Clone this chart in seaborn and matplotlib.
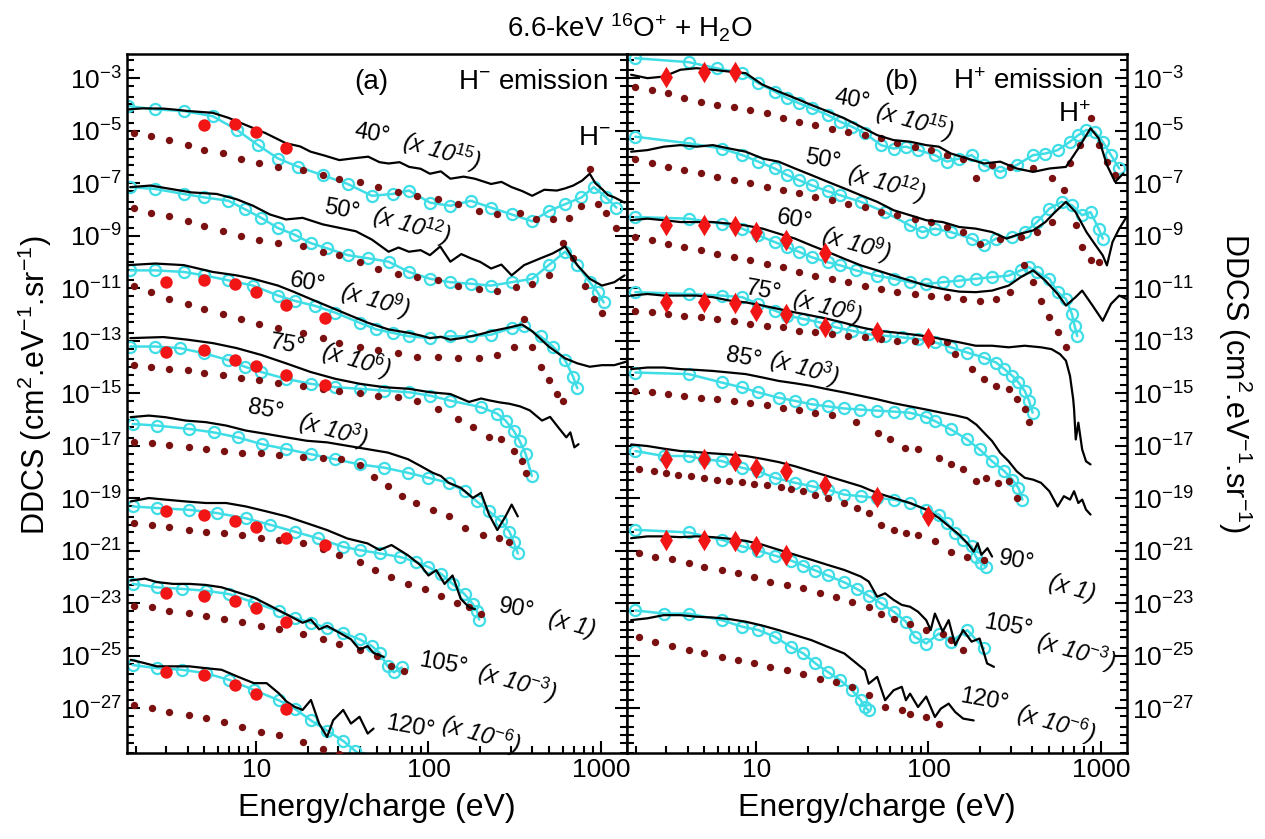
import numpy as np
import matplotlib
matplotlib.use("Agg")
import matplotlib.pyplot as plt
import seaborn as sns
from matplotlib.ticker import FixedLocator, FuncFormatter, NullFormatter, LogLocator

# energies in eV, DDCS given as log10 of the plotted (scaled) value
ANGLES = [40, 50, 60, 75, 85, 90, 105, 120]
FACTORS = ["15", "12", "9", "6", "3", None, "-3", "-6"]
RED_E = [3, 5, 7.5, 10, 15, 25, 50, 100]

# ---- panel (a): H- emission ----
a_black = {
    40: ([1.8, 2.2, 2.9, 3.4, 4.0, 5.6, 6.9, 8.6, 11.3, 14.9, 18, 20.7, 25, 30.4, 37, 44.7, 52, 58.7, 68, 77.3,
          90, 102, 118, 134, 160, 186, 231, 265, 304, 350, 400, 470, 556, 620, 692, 780, 863, 930, 1016, 1100, 1199, 1375],
         [-4.19, -4.15, -4.16, -4.2, -4.25, -4.32, -4.51, -4.77, -5.09, -5.48, -5.6, -5.80, -5.95, -6.12, -6.05, -5.99,
          -6.2, -6.25, -6.2, -6.38, -6.45, -6.64, -6.55, -6.83, -6.75, -6.83, -7.03, -6.95, -7.15, -7.3, -7.48, -7.25,
          -7.28, -7.2, -7.09, -6.9, -6.64, -7.0, -7.22, -7.45, -7.54, -7.74]),
    50: ([1.86, 2.44, 3.2, 4.2, 5.9, 7.7, 9.6, 12.0, 14.9, 18.6, 24.4, 30.4, 37.9, 47, 58.7, 67, 77, 90, 102, 117,
          134, 155, 176, 200, 231, 265, 304, 359, 447, 528, 621, 731, 863, 1016, 1199, 1375],
         [-7.15, -7.09, -7.22, -7.35, -7.41, -7.61, -7.86, -8.19, -8.38, -8.32, -8.57, -8.70, -8.83, -9.15, -9.61,
          -9.45, -9.61, -9.55, -9.74, -9.41, -9.99, -9.7, -9.86, -10.0, -10.25, -10.1, -10.51, -10.12, -9.86, -9.67,
          -9.41, -10.12, -10.64, -10.90, -10.77, -10.51]),
    60: ([1.8, 2.6, 3.8, 5.6, 7.7, 9.6, 13.4, 16.7, 20.7, 25.8, 35.8, 44.7, 58.7, 77, 90, 102, 118, 134, 155, 176,
          200, 231, 287, 349, 400, 499, 621, 731, 863, 1016, 1199, 1400],
         [-10.12, -10.06, -10.12, -10.38, -10.51, -10.64, -10.90, -11.15, -11.41, -11.67, -12.06, -12.32, -12.57,
          -12.70, -12.8, -12.90, -12.85, -12.96, -12.9, -12.83, -12.75, -12.64, -12.51, -12.38, -12.64, -13.22,
          -13.67, -13.86, -13.99, -13.93, -13.93, -13.80]),
    75: ([1.86, 2.9, 4.0, 5.6, 7.7, 10.7, 14.9, 20.7, 28.8, 40, 55.5, 77, 102, 134, 172, 202, 225, 260, 295, 340,
          387, 456, 508, 567, 631, 666, 703, 743],
         [-12.90, -12.86, -12.96, -13.09, -13.28, -13.54, -13.86, -14.19, -14.45, -14.64, -14.77, -14.83, -14.96,
          -15.03, -15.33, -15.2, -15.27, -15.35, -15.4, -15.5, -15.65, -16.04, -15.90, -16.30, -16.68, -16.49,
          -17.06, -16.94]),
    85: ([1.87, 2.38, 2.96, 3.9, 5.1, 6.7, 8.7, 11.5, 15.0, 19.7, 25.8, 33.8, 44.4, 58.2, 76, 90, 106, 118, 131,
          154, 181, 202, 225, 251, 280, 304, 330],
         [-15.91, -15.85, -15.91, -16.04, -16.10, -16.23, -16.42, -16.55, -16.68, -16.81, -16.87, -17.0, -17.13,
          -17.26, -17.51, -17.77, -18.03, -18.15, -18.41, -18.60, -18.99, -18.79, -19.63, -20.21, -19.69, -19.24,
          -19.69]),
    90: ([1.87, 2.38, 2.96, 3.9, 5.1, 6.7, 8.7, 11.5, 15.0, 19.7, 25.8, 33.8, 44.4, 52, 61, 76, 90, 100, 111, 124,
          138, 154, 172, 186],
         [-19.12, -18.99, -19.05, -19.12, -19.18, -19.18, -19.31, -19.50, -19.69, -19.95, -20.21, -20.53, -20.72,
          -20.97, -20.78, -21.17, -21.55, -21.94, -21.74, -22.26, -21.94, -22.83, -23.15, -23.22]),
    105: ([1.87, 2.26, 2.65, 3.3, 4.1, 5.1, 6.3, 7.8, 9.7, 12.1, 15.0, 18.6, 20.8, 23.2, 25.8, 30.4, 35.5, 39.8,
           44.4, 48, 55],
          [-22.13, -22.06, -22.19, -22.26, -22.26, -22.30, -22.39, -22.58, -22.78, -23.10, -23.42, -23.74, -23.62,
           -23.99, -23.86, -24.12, -24.37, -24.76, -24.63, -24.89, -25.04]),
    120: ([1.87, 2.26, 2.65, 3.3, 4.1, 5.1, 6.3, 7.8, 9.7, 11.5, 13.5, 15.0, 16.7, 18.6, 20.8, 23.2, 25.8, 28.0,
           32, 35.5, 39.8, 44.4, 48],
          [-25.15, -25.28, -25.40, -25.40, -25.40, -25.47, -25.53, -25.79, -26.04, -26.04, -26.42, -26.74, -26.94,
           -27.06, -26.68, -27.58, -28.09, -27.45, -27.06, -27.58, -27.32, -27.96, -27.77]),
}

a_cyan = {
    40: ([1.8, 2.6, 3.8, 5.6, 7.7, 10.2, 13.4, 17.6, 24.4, 34, 47, 62, 77, 102, 134, 176, 231, 304, 400, 499, 621,
          773, 912, 1074, 1232],
         [-4.06, -4.19, -4.25, -4.45, -4.96, -5.54, -6.06, -6.38, -6.70, -7.03, -7.48, -7.41, -7.28, -7.74, -7.86,
          -7.67, -7.93, -8.19, -8.45, -8.06, -7.80, -7.54, -7.15, -7.54, -7.93]),
    50: ([1.86, 2.6, 3.8, 5.0, 6.9, 8.6, 10.7, 13.4, 16.7, 20.7, 25.8, 34, 44.7, 58.7, 77, 102, 134, 176, 231, 304,
          400, 499, 621, 731, 863, 960, 1040],
         [-7.15, -7.22, -7.41, -7.54, -7.67, -7.99, -8.32, -8.71, -8.96, -9.28, -9.48, -9.74, -9.86, -9.99, -10.38,
          -10.64, -10.77, -10.83, -10.90, -10.77, -10.64, -10.12, -9.61, -10.12, -10.77, -11.16, -11.54]),
    60: ([1.86, 2.6, 3.8, 5.0, 6.9, 9.6, 13.4, 16.7, 21.9, 28.8, 40, 49.9, 62, 77, 102, 134, 176, 231, 304, 359,
          447, 528, 621, 692, 731],
         [-10.32, -10.32, -10.38, -10.51, -10.70, -10.90, -11.28, -11.48, -11.67, -11.93, -12.32, -12.57, -12.70,
          -12.83, -12.90, -12.83, -12.83, -12.77, -12.51, -12.45, -12.83, -13.22, -13.74, -14.38, -14.81]),
    75: ([1.86, 2.6, 3.6, 5.0, 6.9, 8.6, 10.7, 14.9, 20.7, 28.8, 40, 55.5, 77, 102, 134, 202, 251, 280, 312, 338,
          367, 398],
         [-13.22, -13.22, -13.28, -13.48, -13.74, -13.99, -14.19, -14.45, -14.64, -14.77, -14.83, -14.90, -14.96,
          -15.09, -15.28, -15.53, -15.78, -16.04, -16.42, -16.81, -17.32, -18.15]),
    85: ([1.92, 2.65, 4.1, 5.66, 7.8, 10.8, 15.0, 20.8, 28.7, 39.8, 55, 76, 100, 131, 162, 191, 225, 265, 295, 312,
          330],
         [-16.17, -16.23, -16.36, -16.49, -16.68, -16.94, -17.13, -17.32, -17.51, -17.71, -17.83, -18.03, -18.22,
          -18.41, -18.73, -19.12, -19.50, -19.88, -20.27, -20.65, -21.10]),
    90: ([1.92, 2.65, 4.1, 5.9, 8.7, 12.1, 16.7, 23.0, 32, 39.8, 52, 68, 85, 100, 118, 138, 162, 181, 191, 197],
         [-19.31, -19.37, -19.44, -19.56, -19.76, -20.01, -20.27, -20.53, -20.85, -20.97, -21.10, -21.23, -21.42,
          -21.62, -21.87, -22.26, -22.65, -23.03, -23.29, -23.62]),
    105: ([1.92, 2.65, 3.7, 5.1, 7.0, 9.7, 13.5, 16.7, 20.8, 25.8, 32, 39.8, 47, 52, 58, 63, 70],
          [-22.26, -22.39, -22.45, -22.52, -22.65, -22.97, -23.29, -23.55, -23.74, -23.94, -24.12, -24.37, -24.63,
           -24.89, -25.40, -25.63, -25.44]),
    120: ([1.92, 2.65, 3.7, 5.1, 7.0, 9.7, 13.5, 16.7, 20.8, 25.8, 32, 37.6, 41.6],
          [-25.35, -25.47, -25.53, -25.66, -25.92, -26.30, -26.69, -27.01, -27.46, -27.85, -28.24, -28.62, -28.88]),
}

a_dots = {
    40: ([1.96, 2.45, 3.13, 4.0, 5.0, 6.4, 8.2, 10.4, 13.4, 18.6, 24.4, 30.4, 40, 51, 67, 86, 113, 149, 196, 251,
          340, 420, 528, 652, 773, 863, 960, 1074, 1232],
         [-5.09, -5.22, -5.35, -5.54, -5.74, -5.86, -6.06, -6.25, -6.38, -6.51, -6.70, -6.83, -6.96, -7.15, -7.35,
          -7.48, -7.61, -7.80, -8.06, -8.19, -8.12, -8.38, -8.38, -8.32, -7.86, -6.45, -7.80, -8.12, -8.70]),
    50: ([1.96, 2.45, 3.13, 4.0, 5.0, 6.4, 8.2, 10.4, 13.4, 18.6, 24.4, 30.4, 40, 51, 67, 86, 113, 149, 196, 251,
          321, 400, 499, 607, 692, 812, 908, 1016],
         [-7.93, -8.12, -8.25, -8.45, -8.64, -8.83, -9.03, -9.15, -9.28, -9.41, -9.61, -9.74, -9.99, -10.25, -10.45,
          -10.57, -10.70, -10.90, -11.03, -11.09, -10.96, -10.83, -10.51, -9.28, -9.86, -10.90, -11.41, -11.93]),
    60: ([1.96, 2.45, 3.13, 4.0, 5.0, 6.4, 8.2, 10.4, 13.4, 18.6, 24.4, 30.4, 40, 51, 67, 86, 113, 149, 196, 251,
          312, 359, 400, 447, 499, 556, 607],
         [-10.90, -11.15, -11.41, -11.61, -11.80, -11.99, -12.19, -12.38, -12.51, -12.70, -12.90, -13.09, -13.22,
          -13.35, -13.48, -13.61, -13.61, -13.67, -13.67, -13.54, -13.22, -12.19, -13.22, -13.99, -14.51, -15.03,
          -15.28]),
    75: ([1.96, 2.45, 3.13, 4.0, 5.0, 6.4, 8.2, 10.4, 13.4, 18.6, 24.4, 30.4, 40, 51, 67, 86, 113, 149, 181, 225,
          265, 312, 348, 367],
         [-13.93, -13.99, -14.06, -14.12, -14.23, -14.32, -14.41, -14.51, -14.61, -14.74, -14.83, -14.92, -15.0,
          -15.09, -15.15, -15.28, -15.61, -15.99, -16.29, -16.68, -16.74, -17.19, -17.58, -18.03]),
    85: ([1.95, 2.47, 3.1, 4.1, 5.1, 6.5, 8.3, 10.6, 13.5, 18.6, 24.4, 31, 39.8, 48, 58, 70, 85, 106, 131, 162,
          207, 258, 295],
         [-16.87, -16.91, -16.96, -17.04, -17.13, -17.19, -17.26, -17.29, -17.35, -17.42, -17.47, -17.51, -17.75,
          -18.2, -18.55, -18.9, -19.18, -19.44, -19.69, -20.14, -20.40, -20.53, -20.65]),
    90: ([1.95, 2.47, 3.1, 4.1, 5.1, 6.5, 8.3, 10.6, 13.5, 18.6, 24.4, 30.4, 39.8, 49, 61, 76, 95, 118, 146, 172,
          202],
         [-19.95, -20.01, -20.08, -20.21, -20.27, -20.33, -20.40, -20.50, -20.59, -20.72, -20.92, -21.17, -21.42,
          -21.74, -22.0, -22.26, -22.45, -22.72, -22.97, -23.15, -23.41]),
    105: ([1.95, 2.47, 3.1, 4.1, 5.1, 6.5, 8.3, 10.6, 13.5, 18.6, 24.4, 30.4, 39.8, 50, 61, 72],
          [-23.09, -23.15, -23.28, -23.35, -23.47, -23.60, -23.73, -23.86, -23.99, -24.18, -24.37, -24.56, -24.76,
           -25.01, -25.40, -25.59]),
    120: ([1.95, 2.47, 3.1, 4.1, 5.1, 6.5, 8.3, 10.6, 13.5, 18.6, 24.4, 30.4, 41.6],
          [-26.87, -27.0, -27.13, -27.26, -27.38, -27.51, -27.71, -27.90, -28.03, -28.28, -28.54, -28.73, -28.99]),
}

a_red = {
    40: [-4.77, -4.74, -5.06, -5.67],
    60: [-10.77, -10.68, -10.83, -11.13, -11.65, -12.12],
    75: [-13.41, -13.37, -13.74, -13.97, -14.32, -14.70],
    90: [-19.50, -19.63, -19.85, -20.08, -20.50, -20.76],
    105: [-22.60, -22.71, -22.92, -23.18, -23.73],
    120: [-25.60, -25.73, -26.12, -26.44, -27.01],
}
a_red_e = {40: [5, 7.5, 10, 15]}

# ---- panel (b): H+ emission ----
b_black = {
    40: ([1.88, 2.34, 2.91, 3.63, 4.5, 5.6, 7.0, 8.7, 10.9, 13.5, 16.8, 20.9, 26.1, 32.5, 40.5, 50.4, 62.8, 78.2,
          97, 115, 135, 168, 210, 261, 325, 405, 504, 628, 740, 872, 972, 1086, 1211, 1352],
         [-2.87, -3.0, -2.94, -2.68, -2.62, -2.68, -2.75, -2.81, -3.25, -3.51, -3.76, -4.02, -4.27, -4.53, -4.85,
          -5.17, -5.36, -5.42, -5.55, -5.61, -5.87, -6.06, -6.25, -6.18, -6.44, -6.57, -6.44, -6.38, -5.68, -4.91,
          -5.29, -6.31, -6.95, -6.63]),
    50: ([1.88, 2.34, 2.91, 3.63, 4.5, 5.6, 7.0, 8.7, 10.9, 13.5, 16.8, 20.9, 26.1, 32.5, 40.5, 50.4, 62.8, 78.2,
          97, 121, 151, 188, 234, 284, 343, 405, 477, 543, 628, 714, 826, 921, 1027, 1086, 1170, 1280, 1410],
         [-5.80, -5.74, -5.61, -5.55, -5.61, -5.55, -5.68, -5.80, -6.06, -6.18, -6.44, -6.69, -6.95, -7.20, -7.46,
          -7.71, -8.03, -8.22, -8.41, -8.48, -8.67, -8.73, -8.86, -9.11, -8.92, -8.80, -8.48, -8.10, -7.71, -8.10,
          -8.86, -9.31, -9.75, -10.13, -9.24, -8.73, -8.29]),
    60: ([1.88, 2.34, 2.91, 3.63, 4.5, 5.6, 7.0, 8.7, 10.9, 13.5, 16.8, 20.9, 26.1, 32.5, 40.5, 50.4, 62.8, 78.2,
          97, 121, 151, 188, 234, 292, 343, 405, 477, 562, 628, 714, 780, 896, 1027, 1146, 1280, 1410],
         [-8.41, -8.35, -8.41, -8.48, -8.48, -8.48, -8.54, -8.61, -8.73, -8.92, -9.11, -9.37, -9.62, -9.88, -10.13,
          -10.32, -10.52, -10.71, -10.90, -11.03, -11.13, -11.15, -11.09, -10.90, -10.58, -10.32, -10.71, -11.22,
          -11.66, -11.34, -11.09, -11.66, -12.24, -11.60, -11.28, -11.41]),
    75: ([1.88, 2.34, 2.91, 3.63, 4.5, 5.6, 7.0, 8.7, 10.9, 13.5, 16.8, 20.9, 26.1, 32.5, 40.5, 50.4, 62.8, 78.2,
          97, 121, 151, 188, 234, 292, 362, 450, 518, 580, 628, 663, 692, 700, 716, 741, 780, 821, 872],
         [-11.28, -11.22, -11.28, -11.28, -11.28, -11.34, -11.47, -11.54, -11.66, -11.79, -11.92, -12.04, -12.17,
          -12.32, -12.49, -12.62, -12.68, -12.75, -12.83, -12.94, -13.06, -13.19, -13.19, -13.25, -13.19, -13.25,
          -13.32, -13.51, -13.76, -14.34, -15.23, -15.61, -16.76, -16.12, -17.14, -17.59, -17.71]),
    85: ([1.88, 2.34, 2.91, 3.63, 4.5, 5.6, 7.0, 8.7, 10.9, 13.5, 16.8, 20.9, 26.1, 32.5, 40.5, 50.4, 62.8, 78.2,
          97, 121, 145, 168, 190, 210, 234, 261, 292, 325, 362, 405, 450, 503, 562, 611, 663, 700, 741, 780, 821,
          872],
         [-14.08, -14.02, -14.02, -14.08, -14.11, -14.15, -14.21, -14.27, -14.40, -14.53, -14.62, -14.72, -14.85,
          -14.97, -15.10, -15.23, -15.38, -15.50, -15.62, -15.75, -15.85, -15.95, -16.2, -16.50, -16.82, -17.27,
          -17.59, -17.97, -18.22, -18.29, -18.41, -18.73, -19.31, -18.92, -19.05, -18.73, -19.18, -19.05, -19.43,
          -19.62]),
    90: ([1.88, 2.34, 2.91, 3.63, 4.5, 5.6, 7.0, 8.7, 10.9, 13.5, 16.8, 20.9, 26.1, 32.5, 40.5, 50.4, 62.8, 78.2,
          97, 115, 135, 151, 168, 183, 193, 203, 220, 234],
         [-16.95, -17.01, -17.11, -17.20, -17.24, -17.29, -17.33, -17.39, -17.50, -17.62, -17.78, -17.97, -18.16,
          -18.35, -18.54, -18.80, -18.99, -19.18, -19.43, -19.75, -20.13, -20.39, -20.71, -21.03, -20.71, -21.15,
          -20.90, -21.22]),
    105: ([1.88, 2.34, 2.91, 3.63, 4.5, 5.6, 7.0, 8.7, 10.9, 13.5, 16.8, 20.9, 26.1, 32.5, 40.5, 45, 50.4, 56,
           62.8, 70, 78.2, 87, 97, 103, 109, 121, 131, 143, 159, 178, 198, 219, 240],
          [-20.52, -20.45, -20.45, -20.48, -20.45, -20.48, -20.54, -20.62, -20.77, -20.96, -21.15, -21.34, -21.54,
           -21.73, -21.98, -22.17, -22.75, -22.62, -22.87, -23.06, -23.13, -23.32, -23.64, -24.02, -23.39, -24.08,
           -23.64, -24.59, -24.02, -24.46, -24.34, -25.29, -25.42]),
    120: ([1.88, 2.34, 2.91, 3.63, 4.5, 5.6, 7.0, 8.7, 10.9, 13.5, 16.8, 20.9, 26.1, 32.5, 38.3, 42.8, 45, 50.4,
           56, 62.8, 70, 74, 78.2, 87, 97, 109, 118, 131, 143, 159, 183],
          [-23.64, -23.57, -23.45, -23.45, -23.51, -23.54, -23.60, -23.70, -23.85, -24.02, -24.21, -24.40, -24.66,
           -24.91, -25.29, -25.55, -26.06, -25.80, -26.69, -26.31, -26.18, -26.69, -26.44, -26.95, -26.55, -27.33,
           -27.01, -26.82, -27.14, -27.39, -27.46]),
}

b_cyan = {
    40: ([1.99, 4.05, 5.9, 8.3, 10.3, 12.8, 15.1, 17.8, 21, 26, 30.8, 36, 42.8, 53, 62.8, 74, 87, 109, 128, 151,
          178, 210, 261, 325, 405, 477, 562, 663, 740, 826, 921, 1027, 1146, 1280],
         [-2.24, -2.39, -2.62, -2.81, -3.19, -3.51, -3.76, -3.96, -4.15, -4.40, -4.66, -4.85, -5.10, -5.55, -5.68,
          -5.61, -5.74, -5.93, -6.18, -6.06, -5.93, -6.31, -6.57, -6.31, -5.93, -5.87, -5.74, -5.42, -5.17, -4.97,
          -5.04, -5.42, -5.93, -6.44]),
    50: ([1.99, 4.05, 6.3, 8.3, 10.3, 12.8, 15.1, 17.8, 21, 26, 30.8, 40.5, 56, 78, 92, 109, 135, 178, 210, 247,
          307, 362, 427, 503, 593, 680, 780, 872, 972, 1027],
         [-5.23, -5.48, -5.68, -5.93, -6.18, -6.44, -6.69, -6.89, -7.08, -7.31, -7.46, -7.71, -8.10, -8.61, -8.86,
          -8.73, -8.86, -9.11, -9.37, -9.11, -9.05, -8.86, -8.48, -7.97, -7.71, -7.84, -8.22, -8.10, -8.73, -9.11]),
    60: ([1.99, 4.05, 6.3, 8.3, 10.3, 12.8, 15.1, 17.8, 21, 26, 30.8, 38, 50, 63, 78, 97, 121, 151, 188, 234, 292,
          343, 384, 427, 503, 562, 628, 680, 705, 730],
         [-8.29, -8.35, -8.54, -8.73, -8.99, -9.24, -9.43, -9.62, -9.82, -10.01, -10.13, -10.32, -10.52, -10.64,
          -10.77, -10.84, -10.77, -10.71, -10.64, -10.58, -10.52, -10.32, -10.20, -10.39, -10.64, -11.15, -11.41,
          -11.98, -12.43, -12.82]),
    75: ([1.99, 4.05, 6.3, 8.3, 10.3, 12.8, 15.1, 18.8, 23.4, 29.0, 36, 45, 56, 70, 87, 109, 135, 168, 210, 247,
          276, 307, 333, 362, 384, 402],
         [-11.15, -11.22, -11.28, -11.34, -11.60, -11.85, -12.04, -12.17, -12.30, -12.49, -12.62, -12.75, -12.81,
          -12.87, -12.94, -13.06, -13.25, -13.45, -13.64, -13.83, -14.08, -14.34, -14.59, -14.91, -15.29, -15.74]),
    85: ([1.99, 4.05, 6.3, 8.3, 10.3, 13.5, 16.8, 21, 26, 32.5, 40, 50, 63, 78, 97, 109, 135, 168, 198, 234, 276,
          307, 333, 351],
         [-14.21, -14.27, -14.59, -14.78, -14.97, -15.17, -15.29, -15.42, -15.50, -15.58, -15.62, -15.66, -15.70,
          -15.74, -15.9, -16.06, -16.38, -16.76, -17.14, -17.59, -17.97, -18.29, -18.61, -19.05]),
    90: ([1.99, 2.91, 4.05, 5.0, 6.3, 8.3, 10.3, 12.8, 16.8, 21, 26, 32.5, 40.5, 50, 63, 78, 97, 115, 128, 143,
          159, 178, 188, 203, 216],
         [-17.20, -17.39, -17.39, -17.52, -17.58, -17.84, -17.97, -18.22, -18.41, -18.54, -18.67, -18.86, -18.92,
          -18.99, -19.05, -19.18, -19.43, -19.62, -19.94, -20.32, -20.58, -20.83, -21.22, -21.47, -21.60]),
    105: ([1.99, 4.05, 6.3, 8.3, 10.3, 12.8, 15.9, 18.8, 22.1, 26, 32.5, 38.3, 45, 53, 63, 74, 83, 97, 115, 135,
           168, 210],
          [-20.20, -20.30, -20.58, -20.83, -20.99, -21.18, -21.37, -21.56, -21.75, -21.94, -22.20, -22.45, -22.71,
           -23.0, -23.32, -23.70, -24.27, -24.53, -24.15, -24.46, -24.02, -24.72]),
    120: ([1.99, 2.91, 4.05, 6.3, 8.3, 10.3, 12.8, 15.9, 18.8, 22.1, 26, 30.8, 36, 40.5, 42.8, 45],
          [-23.27, -23.39, -23.39, -23.64, -23.89, -24.02, -24.27, -24.66, -24.91, -25.29, -25.61, -25.93, -26.31,
           -26.69, -26.95, -27.08]),
}

b_dots = {
    40: ([1.99, 2.47, 3.07, 3.83, 4.77, 5.9, 7.4, 9.2, 11.5, 14.3, 17.8, 22.1, 27.6, 34.3, 42.8, 53, 66, 83, 103,
          128, 159, 188, 234, 299, 405, 518, 663, 760, 872, 972, 1086, 1211],
         [-3.32, -3.45, -3.57, -3.74, -3.89, -4.02, -4.08, -4.21, -4.34, -4.53, -4.66, -4.78, -4.94, -5.06, -5.17,
          -5.29, -5.48, -5.61, -5.74, -5.93, -6.06, -6.82, -6.31, -6.38, -6.44, -6.82, -6.25, -5.55, -4.53, -5.55,
          -6.18, -6.69]),
    50: ([1.99, 2.47, 3.07, 3.83, 4.77, 5.9, 7.4, 9.2, 11.5, 14.3, 17.8, 22.1, 27.6, 34.3, 42.8, 53, 66, 83, 103,
          128, 159, 198, 261, 343, 427, 518, 610, 714, 780, 872, 972],
         [-6.06, -6.25, -6.38, -6.50, -6.63, -6.76, -6.89, -7.01, -7.14, -7.27, -7.39, -7.52, -7.65, -7.78, -7.90,
          -8.10, -8.22, -8.35, -8.48, -8.67, -8.86, -9.31, -9.11, -9.05, -8.86, -8.48, -7.27, -8.61, -9.43, -9.94,
          -10.01]),
    60: ([1.99, 2.47, 3.07, 3.83, 4.77, 5.9, 7.4, 9.2, 11.5, 14.3, 17.8, 22.1, 27.6, 34.3, 42.8, 53, 66, 83, 103,
          128, 159, 198, 247, 299, 358, 405, 450, 503, 562, 628],
         [-9.05, -9.18, -9.31, -9.43, -9.56, -9.69, -9.82, -9.94, -10.07, -10.20, -10.39, -10.52, -10.64, -10.77,
          -10.90, -11.03, -11.15, -11.22, -11.28, -11.34, -11.41, -11.47, -11.41, -11.15, -10.13, -10.77, -11.47,
          -12.11, -12.68, -13.25]),
    75: ([1.99, 2.47, 3.07, 3.83, 4.77, 5.9, 7.4, 9.2, 11.5, 14.3, 17.8, 22.1, 27.6, 34.3, 42.8, 53, 66, 83, 103,
          128, 143, 178, 210, 247, 292, 325, 362, 384],
         [-11.85, -11.92, -11.98, -12.04, -12.11, -12.17, -12.26, -12.36, -12.43, -12.49, -12.62, -12.68, -12.75,
          -12.81, -12.87, -12.94, -13.0, -13.0, -13.0, -13.06, -13.51, -14.08, -14.46, -14.72, -14.85, -15.23,
          -15.61, -16.1]),
    85: ([1.99, 2.47, 3.07, 3.83, 4.77, 5.9, 7.4, 9.2, 11.5, 14.3, 17.8, 22.1, 27.6, 38, 51, 60, 73, 87, 115, 135,
          159, 188, 216, 254, 292, 325],
         [-14.91, -14.97, -15.04, -15.10, -15.17, -15.23, -15.29, -15.38, -15.46, -15.55, -15.64, -15.74, -15.84,
          -16.1, -16.50, -16.76, -17.08, -17.14, -17.46, -17.71, -17.90, -18.35, -18.22, -18.41, -18.35, -18.99]),
    90: ([2.10, 2.54, 2.99, 3.53, 4.16, 5.0, 5.9, 7.0, 8.3, 9.7, 11.5, 13.9, 16.0, 18.8, 22.1, 26, 32.5, 38.3, 45,
          53, 63, 74, 87, 109, 135, 168, 210],
         [-17.90, -17.97, -18.03, -18.10, -18.16, -18.22, -18.29, -18.35, -18.39, -18.44, -18.49, -18.57, -18.64,
          -18.73, -18.86, -18.99, -19.18, -19.37, -19.56, -20.01, -20.20, -20.32, -20.39, -20.64, -21.03, -21.22,
          -21.34]),
    105: ([2.10, 2.60, 3.25, 4.05, 5.0, 6.3, 7.8, 9.7, 12.1, 15.1, 18.8, 23.4, 29.0, 36, 45, 53, 63, 78, 97, 121,
           135, 159],
          [-21.09, -21.22, -21.32, -21.47, -21.60, -21.73, -21.86, -21.98, -22.17, -22.30, -22.43, -22.62, -22.75,
           -22.94, -23.13, -23.39, -23.58, -23.77, -24.02, -24.15, -24.40, -24.78]),
    120: ([2.10, 2.60, 3.25, 4.05, 5.0, 6.3, 7.8, 9.7, 12.1, 15.1, 18.8, 23.4, 29.0, 36, 45, 56, 70, 78, 97, 115],
          [-24.27, -24.46, -24.62, -24.78, -24.91, -25.04, -25.17, -25.29, -25.42, -25.55, -25.68, -25.87, -26.0,
           -26.18, -26.50, -26.95, -27.08, -27.20, -27.33, -27.58]),
}

b_red = {
    40: [-2.94, -2.77, -2.75],
    60: [-8.58, -8.61, -8.64, -8.86, -9.18, -9.65],
    75: [-11.51, -11.51, -11.56, -11.85, -11.98, -12.49, -12.68, -12.91],
    90: [-17.52, -17.52, -17.59, -17.84, -17.97, -18.48, -18.95, -19.69],
    105: [-20.58, -20.58, -20.64, -20.83, -21.15],
}

# label positions (axes fraction): angle text, factor text
a_labels = {40: ((0.49, 0.885), (0.63, 0.86)), 50: ((0.43, 0.777), (0.57, 0.755)),
            60: ((0.36, 0.672), (0.496, 0.648)), 75: ((0.32, 0.584), (0.458, 0.562)),
            85: ((0.278, 0.49), (0.412, 0.462)), 90: ((0.778, 0.206), (0.89, 0.184)),
            105: ((0.632, 0.127), (0.78, 0.1)), 120: ((0.566, 0.037), (0.708, 0.026))}
b_labels = {40: ((0.45, 0.934), (0.576, 0.904)), 50: ((0.392, 0.848), (0.52, 0.815)),
            60: ((0.334, 0.762), (0.458, 0.728)), 75: ((0.272, 0.66), (0.4, 0.638)),
            85: ((0.234, 0.565), (0.354, 0.55)), 90: ((0.778, 0.274), (0.89, 0.235)),
            105: ((0.762, 0.181), (0.898, 0.145)), 120: ((0.714, 0.075), (0.858, 0.042))}

CYAN = "#3fdde6"
DARKRED = "#7a1010"
RED = "#f21515"

sns.set_style("ticks")
plt.rcParams["font.family"] = ["Liberation Sans", "DejaVu Sans"]
plt.rcParams["mathtext.fontset"] = "custom"
plt.rcParams["mathtext.rm"] = "Liberation Sans"
plt.rcParams["mathtext.it"] = "Liberation Sans:italic"
plt.rcParams["axes.linewidth"] = 1.8
for key in ("text.color", "axes.labelcolor", "axes.edgecolor", "xtick.color", "ytick.color"):
    plt.rcParams[key] = "black"


def draw_panel(ax, black, cyan, dots, red, red_e, red_marker, red_size, labels):
    ax.set_xscale("log")
    ax.set_yscale("log")
    for ang in ANGLES:
        e, v = cyan[ang]
        sns.lineplot(x=e, y=10.0 ** np.array(v), ax=ax, color=CYAN, lw=1.8, marker="o", markersize=8,
                     markerfacecolor="none", markeredgecolor=CYAN, markeredgewidth=1.6,
                     estimator=None, sort=False, zorder=2)
        e, v = dots[ang]
        sns.scatterplot(x=e, y=10.0 ** np.array(v), ax=ax, color=DARKRED, s=28, linewidth=0, zorder=3)
        e, v = black[ang]
        sns.lineplot(x=e, y=10.0 ** np.array(v), ax=ax, color="black", lw=1.6,
                     estimator=None, sort=False, zorder=4)
        if ang in red:
            v = red[ang]
            e = red_e.get(ang, RED_E[:len(v)])
            sns.scatterplot(x=e, y=10.0 ** np.array(v), ax=ax, color=RED, marker=red_marker, s=red_size,
                            linewidth=0, zorder=5)

    for ang, fac in zip(ANGLES, FACTORS):
        (x1, y1), (x2, y2) = labels[ang]
        ax.text(x1, y1, f"{ang}°", transform=ax.transAxes, fontsize=17, rotation=-10,
                ha="center", va="center")
        ftxt = "(x 1)" if fac is None else r"(x 10$\mathit{^{%s}}$)" % fac
        ax.text(x2, y2, ftxt, transform=ax.transAxes, fontsize=17, rotation=-16, style="italic",
                ha="center", va="center")

    ax.set_xlim(1.78, 1420)
    ax.set_ylim(10 ** -28.7, 10 ** -2.08)
    ax.xaxis.set_major_locator(FixedLocator([10, 100, 1000]))
    ax.xaxis.set_major_formatter(FuncFormatter(lambda v, p: f"{v:.0f}"))
    ax.xaxis.set_minor_locator(LogLocator(base=10, subs=np.arange(2, 10), numticks=20))
    ax.xaxis.set_minor_formatter(NullFormatter())
    ax.yaxis.set_major_locator(FixedLocator([10.0 ** k for k in range(-27, -2, 2)]))
    ax.yaxis.set_major_formatter(FuncFormatter(
        lambda v, p: r"$\mathregular{10^{%d}}$" % round(np.log10(v))))
    ax.yaxis.set_minor_locator(FixedLocator([m * 10.0 ** k for k in range(-30, 0) for m in (1, 2, 5)]))
    ax.yaxis.set_minor_formatter(NullFormatter())
    ax.tick_params(which="both", direction="in", left=True, right=True, top=False, bottom=True,
                   width=1.5, labelsize=19)
    ax.tick_params(which="major", length=9)
    ax.tick_params(which="minor", length=5)
    ax.set_xlabel("Energy/charge (eV)", fontsize=23, labelpad=8)
    ax.set_ylabel("")


fig = plt.figure(figsize=(12.65, 8.39), dpi=100)
ax1 = fig.add_axes([127 / 1265, 86 / 839, 500 / 1265, 699 / 839])
ax2 = fig.add_axes([627 / 1265, 86 / 839, 500 / 1265, 699 / 839])

draw_panel(ax1, a_black, a_cyan, a_dots, a_red, a_red_e, "o", 80, a_labels)
draw_panel(ax2, b_black, b_cyan, b_dots, b_red, {}, "d", 120, b_labels)

ax1.tick_params(labelleft=True, labelright=False)
ax2.tick_params(labelleft=False, labelright=True)

ax1.text(0.488, 0.96, "(a)", transform=ax1.transAxes, fontsize=20, ha="center", va="center")
ax1.text(0.812, 0.96, r"H$\mathregular{^{-}}$ emission", transform=ax1.transAxes, fontsize=20,
         ha="center", va="center")
ax1.text(0.934, 0.88, r"H$\mathregular{^{-}}$", transform=ax1.transAxes, fontsize=20, ha="center", va="center")
ax2.text(0.548, 0.96, "(b)", transform=ax2.transAxes, fontsize=20, ha="center", va="center")
ax2.text(0.802, 0.96, r"H$\mathregular{^{+}}$ emission", transform=ax2.transAxes, fontsize=20,
         ha="center", va="center")
ax2.text(0.894, 0.913, r"H$\mathregular{^{+}}$", transform=ax2.transAxes, fontsize=20, ha="center", va="center")

fig.text(630 / 1265, 1 - 28 / 839, r"6.6-keV $\mathregular{^{16}O^{+}}$ + H$\mathregular{_2}$O",
         fontsize=20, ha="center", va="center")
ylab = r"DDCS (cm$\mathregular{^2}$.eV$\mathregular{^{-1}}$.sr$\mathregular{^{-1}}$)"
fig.text(35 / 1265, 1 - 385 / 839, ylab, fontsize=22, rotation=90, ha="center", va="center")
fig.text(1235 / 1265, 1 - 383 / 839, ylab, fontsize=22, rotation=-90, ha="center", va="center")

fig.savefig("out.png", dpi=100)
